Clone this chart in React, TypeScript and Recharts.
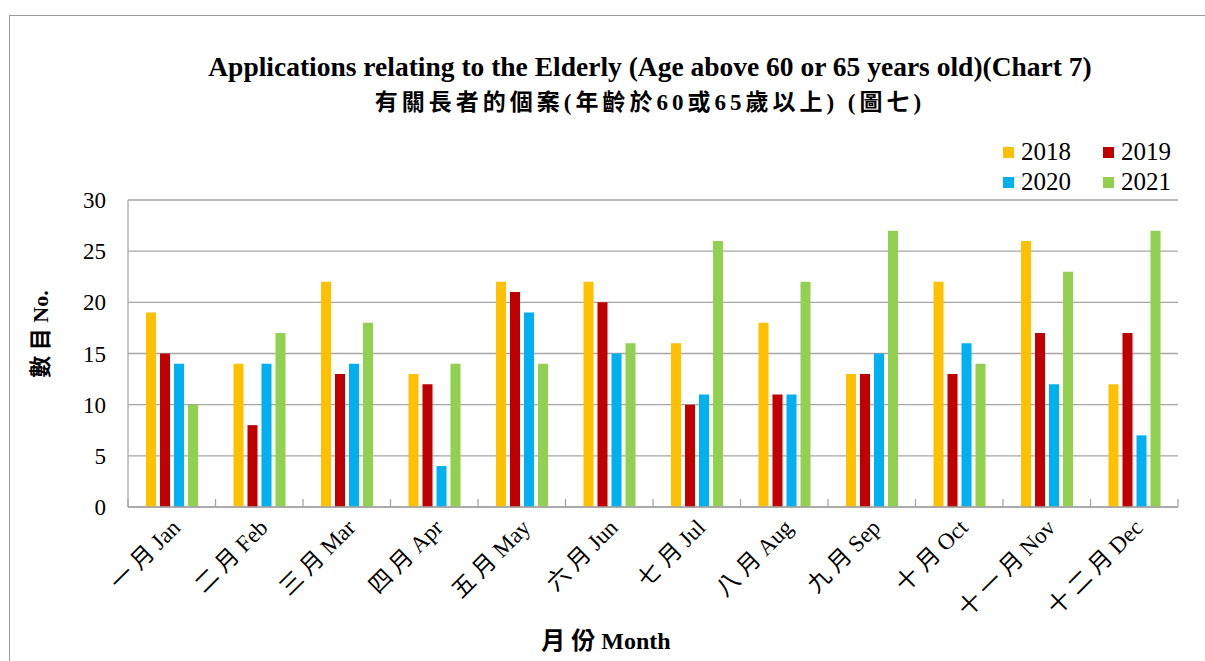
import { Bar, BarChart, CartesianGrid, XAxis, YAxis } from "recharts";

const months = [
  "一 月 Jan", "二 月 Feb", "三 月 Mar", "四 月 Apr", "五 月 May", "六 月 Jun",
  "七 月 Jul", "八 月 Aug", "九 月 Sep", "十 月 Oct", "十 一 月 Nov", "十 二 月 Dec",
];
const y2018 = [19, 14, 22, 13, 22, 22, 16, 18, 13, 22, 26, 12];
const y2019 = [15, 8, 13, 12, 21, 20, 10, 11, 13, 13, 17, 17];
const y2020 = [14, 14, 14, 4, 19, 15, 11, 11, 15, 16, 12, 7];
const y2021 = [10, 17, 18, 14, 14, 16, 26, 22, 27, 14, 23, 27];
const yTicks = [0, 5, 10, 15, 20, 25, 30];

const series = [
  { key: "y2018", name: "2018", color: "#FFC000" },
  { key: "y2019", name: "2019", color: "#C00000" },
  { key: "y2020", name: "2020", color: "#00B0F0" },
  { key: "y2021", name: "2021", color: "#92D050" },
];

const data = months.map((m, i) => ({
  month: m,
  y2018: y2018[i],
  y2019: y2019[i],
  y2020: y2020[i],
  y2021: y2021[i],
}));

const serif = "'Liberation Serif', 'Times New Roman', 'Noto Sans CJK TC', serif";
const CHART_W = 1205;
const MARGIN = { top: 200, right: 27, left: 68, bottom: 54 };
const Y_W = 60;
const BAND = (CHART_W - MARGIN.left - MARGIN.right - Y_W) / months.length;

function MonthTick(props: any) {
  const { x, y, payload, index } = props;
  const tx = x + 10;
  const ty = y + 22;
  return (
    <g>
      <line x1={x - BAND / 2} x2={x - BAND / 2} y1={y - 8} y2={y} stroke="#a6a6a6" strokeWidth={1.3} />
      {index === months.length - 1 && (
        <line x1={x + BAND / 2} x2={x + BAND / 2} y1={y - 8} y2={y} stroke="#a6a6a6" strokeWidth={1.3} />
      )}
      <text
        x={tx}
        y={ty}
        transform={`rotate(-45, ${tx}, ${ty})`}
        textAnchor="end"
        fontSize={23}
        fontFamily={serif}
        fill="#000"
        style={{ whiteSpace: "pre" }}
      >
        {payload.value}
      </text>
    </g>
  );
}

export default function App() {
  return (
    <div style={{ position: "absolute", left: 0, top: 0, width: 1205, height: 661, background: "#fff", fontFamily: serif }}>
      <div style={{ position: "absolute", left: 9, top: 15, right: 0, bottom: 0, borderTop: "1.5px solid #999", borderLeft: "1.5px solid #999" }} />
      <div style={{ position: "absolute", left: 0, width: 1300, top: 50, textAlign: "center", fontWeight: "bold", fontSize: 27.5, lineHeight: "34px" }}>
        Applications relating to the Elderly (Age above 60 or 65 years old)(Chart 7)
        <br />
        <span style={{ letterSpacing: 4, fontSize: 23 }}>有關長者的個案(年齡於60或65歲以上) (圖七)</span>
      </div>
      <div style={{ position: "absolute", left: 1000, top: 137, display: "grid", gridTemplateColumns: "100px 80px", fontSize: 25 }}>
        {series.map((s) => (
          <div key={s.key} style={{ display: "flex", alignItems: "center", height: 30 }}>
            <span style={{ width: 11, height: 11, background: s.color, marginRight: 7, marginLeft: 3 }} />
            {s.name}
          </div>
        ))}
      </div>
      <div
        style={{
          position: "absolute", left: 38, top: 334, transform: "translate(-50%, -50%) rotate(-90deg)",
          whiteSpace: "nowrap", fontWeight: "bold", fontSize: 22,
        }}
      >
        數 目 No.
      </div>
      <div
        style={{
          position: "absolute", left: 606, top: 638, transform: "translate(-50%, -50%)",
          whiteSpace: "nowrap", fontWeight: "bold", fontSize: 24,
        }}
      >
        月 份 Month
      </div>
      <div style={{ position: "absolute", left: 0, top: 0 }}>
        <BarChart
          width={CHART_W}
          height={661}
          data={data}
          margin={MARGIN}
          barCategoryGap="20%"
          barGap={4}
        >
          <CartesianGrid vertical={false} stroke="#a6a6a6" strokeWidth={1.3} />
          <XAxis
            dataKey="month"
            interval={0}
            height={100}
            tick={<MonthTick />}
            tickLine={false}
            tickSize={0}
            tickMargin={0}
            axisLine={{ stroke: "#a6a6a6", strokeWidth: 1.3 }}
          />
          <YAxis
            domain={[0, 30]}
            ticks={yTicks}
            width={Y_W}
            tickLine={false}
            tickSize={0}
            tickMargin={22}
            axisLine={{ stroke: "#a6a6a6", strokeWidth: 1.3 }}
            tick={{ fill: "#000", fontSize: 23, fontFamily: serif }}
          />
          {series.map((s) => (
            <Bar key={s.key} dataKey={s.key} name={s.name} fill={s.color} barSize={10} isAnimationActive={false} />
          ))}
        </BarChart>
      </div>
    </div>
  );
}
